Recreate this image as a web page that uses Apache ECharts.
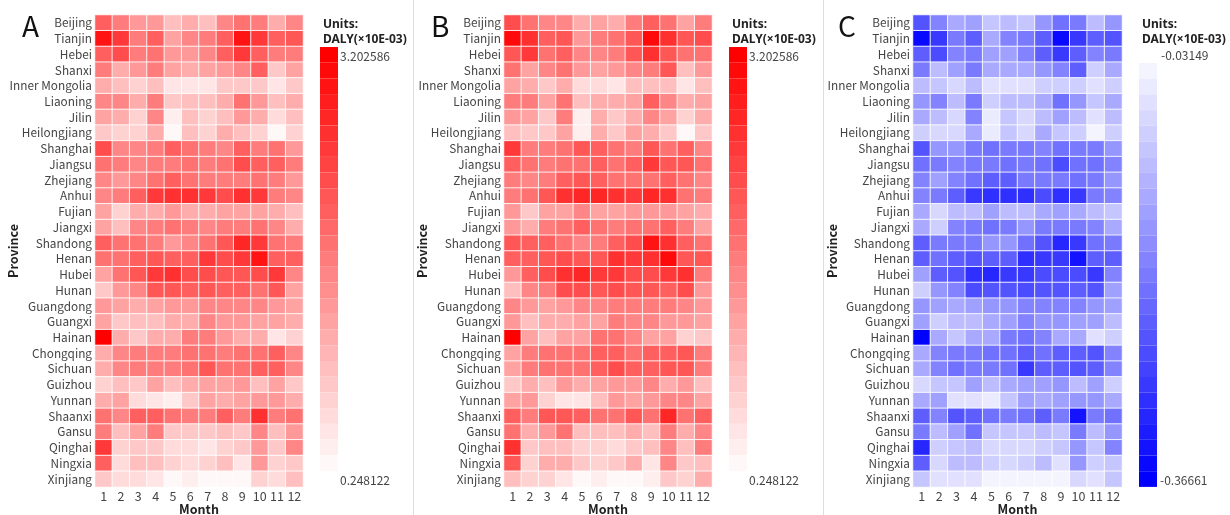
<!DOCTYPE html>
<html><head><meta charset="utf-8">
<script src="https://cdn.jsdelivr.net/npm/echarts@6/dist/echarts.min.js"></script>
<style>html,body{margin:0;padding:0;background:#fff}#c{width:1230px;height:515px}</style>
</head><body><div id="c"></div>
<script>
const provinces = ['Beijing','Tianjin','Hebei','Shanxi','Inner Mongolia','Liaoning','Jilin','Heilongjiang','Shanghai','Jiangsu','Zhejiang','Anhui','Fujian','Jiangxi','Shandong','Henan','Hubei','Hunan','Guangdong','Guangxi','Hainan','Chongqing','Sichuan','Guizhou','Yunnan','Shaanxi','Gansu','Qinghai','Ningxia','Xinjiang'];
const months = ['1','2','3','4','5','6','7','8','9','10','11','12'];

// Panel A values, one row per province (Jan..Dec)
const dalyA = [
[2.02,1.72,1.43,1.43,0.99,1.13,0.99,1.58,1.87,1.72,1.13,1.58],
[2.91,2.46,1.72,2.02,1.28,1.58,1.72,2.02,2.91,2.46,2.02,2.17],
[2.02,2.32,1.72,1.87,1.43,1.43,1.58,2.02,2.46,2.02,1.72,1.72],
[1.72,1.13,1.43,1.72,1.28,1.13,1.28,1.43,1.58,2.02,0.84,1.28],
[1.13,0.99,0.78,0.99,0.54,0.54,0.48,0.84,0.84,0.84,0.48,0.84],
[1.58,1.58,1.13,1.72,0.84,0.99,0.99,1.13,1.87,1.43,0.99,1.13],
[1.28,1.13,0.78,1.58,0.40,0.99,0.69,0.99,1.43,1.13,0.60,0.99],
[0.84,0.69,0.69,1.13,0.34,0.99,0.69,1.13,0.99,0.69,0.31,0.78],
[2.32,1.58,1.58,1.72,2.02,1.87,1.72,1.58,2.02,1.72,1.87,1.43],
[1.87,1.72,1.58,1.72,1.72,1.87,1.72,1.87,2.32,2.02,2.02,1.72],
[1.58,1.43,1.58,1.87,2.02,1.87,1.72,1.72,1.72,1.87,1.72,1.43],
[1.58,1.72,2.02,2.46,2.61,2.61,2.46,2.32,2.61,2.46,1.72,1.58],
[1.28,0.69,1.13,1.13,1.43,1.13,1.13,1.28,1.28,1.28,1.13,0.99],
[1.28,0.99,1.58,1.72,1.87,1.72,1.58,1.72,1.72,1.87,1.58,1.13],
[2.02,1.87,1.87,1.72,1.43,1.58,1.87,2.17,2.76,2.46,1.87,1.72],
[1.87,1.87,2.02,2.17,2.02,2.02,2.46,2.32,2.46,2.91,2.02,2.02],
[1.28,1.87,2.17,2.46,2.61,2.32,2.32,2.17,2.17,2.32,2.46,1.58],
[0.84,1.43,1.58,2.17,2.17,2.02,2.17,2.02,2.02,1.87,2.17,1.28],
[1.43,1.28,1.13,1.28,1.43,1.43,1.58,1.58,1.58,1.58,1.43,1.28],
[1.28,0.84,0.99,0.99,1.13,1.13,1.58,1.43,1.43,1.28,1.28,1.13],
[3.20,1.13,0.84,1.13,1.13,1.72,1.72,1.43,1.13,1.13,0.54,0.78],
[1.13,1.58,1.72,1.72,1.72,1.87,1.87,1.72,1.87,1.87,2.02,1.58],
[1.13,1.58,1.72,1.72,1.72,1.87,2.17,1.87,1.87,2.02,2.02,1.58],
[0.69,0.99,0.84,1.28,0.99,1.13,1.28,1.28,1.43,0.99,1.28,0.84],
[1.13,1.28,0.60,0.48,0.43,0.84,1.28,1.13,1.28,1.43,1.43,1.13],
[1.87,1.58,2.02,2.02,1.87,1.72,1.72,2.02,1.72,2.61,1.72,1.87],
[1.72,0.99,1.28,1.72,0.84,0.84,0.84,0.99,0.84,1.58,0.99,1.43],
[2.46,0.69,0.84,0.84,0.60,0.60,0.54,0.69,0.84,1.43,0.84,1.58],
[2.02,0.60,0.99,0.99,0.69,0.60,0.69,0.99,0.48,1.43,0.69,0.84],
[0.84,0.60,0.60,0.48,0.28,0.40,0.25,0.28,0.34,0.69,0.60,0.99]
];

// Panel B values
const dalyB = [
[2.32,1.87,1.58,1.58,1.13,1.28,1.13,1.72,2.02,1.87,1.28,1.72],
[3.05,2.61,2.02,2.17,1.43,1.72,1.87,2.17,3.05,2.61,2.17,2.32],
[2.17,2.46,1.87,2.02,1.58,1.58,1.72,2.17,2.61,2.17,1.87,1.87],
[1.87,1.28,1.58,1.87,1.43,1.28,1.43,1.58,1.72,2.17,0.99,1.43],
[1.28,1.13,0.84,1.13,0.60,0.60,0.54,0.99,0.99,0.99,0.54,0.99],
[1.72,1.72,1.28,1.87,0.99,1.13,1.13,1.28,2.02,1.58,1.13,1.28],
[1.43,1.28,0.84,1.72,0.46,1.13,0.84,1.13,1.58,1.28,0.69,1.13],
[0.99,0.84,0.84,1.28,0.40,1.13,0.84,1.28,1.13,0.84,0.34,0.84],
[2.46,1.72,1.72,1.87,2.17,2.02,1.87,1.72,2.17,1.87,2.02,1.58],
[2.02,1.87,1.72,1.87,1.87,2.02,1.87,2.02,2.46,2.17,2.17,1.87],
[1.72,1.58,1.72,2.02,2.17,2.02,1.87,1.87,1.87,2.02,1.87,1.58],
[1.72,1.87,2.17,2.61,2.76,2.76,2.61,2.46,2.76,2.61,1.87,1.72],
[1.43,0.84,1.28,1.28,1.58,1.28,1.28,1.43,1.43,1.43,1.28,1.13],
[1.43,1.13,1.72,1.87,2.02,1.87,1.72,1.87,1.87,2.02,1.72,1.28],
[2.17,2.02,2.02,1.87,1.58,1.72,2.02,2.32,2.91,2.61,2.02,1.87],
[2.02,2.02,2.17,2.32,2.17,2.17,2.61,2.46,2.61,3.05,2.17,2.17],
[1.43,2.02,2.32,2.61,2.76,2.46,2.46,2.32,2.32,2.46,2.61,1.72],
[0.99,1.58,1.72,2.32,2.32,2.17,2.32,2.17,2.17,2.02,2.32,1.43],
[1.58,1.43,1.28,1.43,1.58,1.58,1.72,1.72,1.72,1.72,1.58,1.43],
[1.43,0.99,1.13,1.13,1.28,1.28,1.72,1.58,1.58,1.43,1.43,1.28],
[3.20,1.28,0.99,1.28,1.28,1.87,1.87,1.58,1.28,1.28,0.69,0.84],
[1.28,1.72,1.87,1.87,1.87,2.02,2.02,1.87,2.02,2.02,2.17,1.72],
[1.28,1.72,1.87,1.87,1.87,2.02,2.32,2.02,2.02,2.17,2.17,1.72],
[0.84,1.13,0.99,1.43,1.13,1.28,1.43,1.43,1.58,1.13,1.43,0.99],
[1.28,1.43,0.69,0.54,0.48,0.99,1.43,1.28,1.43,1.58,1.58,1.28],
[2.02,1.72,2.17,2.17,2.02,1.87,1.87,2.17,1.87,2.76,1.87,2.02],
[1.87,1.13,1.43,1.87,0.99,0.99,0.99,1.13,0.99,1.72,1.13,1.58],
[2.61,0.84,0.99,0.99,0.69,0.69,0.60,0.84,0.99,1.58,0.99,1.72],
[2.17,0.69,1.13,1.13,0.84,0.69,0.84,1.13,0.54,1.58,0.84,0.99],
[0.99,0.69,0.69,0.54,0.31,0.46,0.28,0.31,0.40,0.84,0.69,1.13]
];

// Panel C values
const dalyC = [
[-0.249,-0.182,-0.132,-0.149,-0.098,-0.115,-0.098,-0.165,-0.216,-0.199,-0.115,-0.165],
[-0.350,-0.283,-0.199,-0.233,-0.132,-0.182,-0.199,-0.233,-0.350,-0.283,-0.233,-0.249],
[-0.233,-0.266,-0.182,-0.199,-0.149,-0.149,-0.182,-0.233,-0.283,-0.233,-0.182,-0.199],
[-0.199,-0.115,-0.149,-0.199,-0.132,-0.132,-0.132,-0.165,-0.182,-0.233,-0.092,-0.132],
[-0.115,-0.098,-0.072,-0.115,-0.065,-0.058,-0.058,-0.082,-0.092,-0.082,-0.058,-0.082],
[-0.165,-0.182,-0.115,-0.199,-0.092,-0.115,-0.115,-0.132,-0.216,-0.165,-0.098,-0.132],
[-0.132,-0.115,-0.072,-0.182,-0.048,-0.098,-0.072,-0.115,-0.149,-0.115,-0.065,-0.115],
[-0.092,-0.072,-0.072,-0.132,-0.048,-0.098,-0.072,-0.132,-0.098,-0.082,-0.038,-0.082],
[-0.249,-0.165,-0.165,-0.199,-0.216,-0.199,-0.199,-0.182,-0.216,-0.199,-0.199,-0.165],
[-0.216,-0.199,-0.182,-0.199,-0.199,-0.216,-0.199,-0.216,-0.266,-0.216,-0.216,-0.182],
[-0.182,-0.149,-0.182,-0.216,-0.233,-0.233,-0.199,-0.199,-0.199,-0.216,-0.199,-0.165],
[-0.182,-0.199,-0.233,-0.283,-0.300,-0.300,-0.300,-0.266,-0.300,-0.283,-0.199,-0.182],
[-0.132,-0.072,-0.115,-0.115,-0.149,-0.115,-0.115,-0.132,-0.149,-0.132,-0.115,-0.098],
[-0.132,-0.092,-0.182,-0.199,-0.216,-0.199,-0.165,-0.199,-0.199,-0.199,-0.182,-0.132],
[-0.233,-0.199,-0.199,-0.199,-0.165,-0.165,-0.216,-0.249,-0.316,-0.283,-0.216,-0.199],
[-0.233,-0.216,-0.233,-0.249,-0.233,-0.233,-0.300,-0.283,-0.283,-0.333,-0.233,-0.233],
[-0.149,-0.233,-0.249,-0.300,-0.316,-0.283,-0.283,-0.266,-0.266,-0.266,-0.283,-0.182],
[-0.092,-0.165,-0.182,-0.266,-0.249,-0.249,-0.266,-0.249,-0.249,-0.233,-0.249,-0.149],
[-0.165,-0.149,-0.132,-0.149,-0.165,-0.165,-0.182,-0.182,-0.182,-0.182,-0.165,-0.149],
[-0.149,-0.092,-0.115,-0.115,-0.132,-0.149,-0.182,-0.165,-0.165,-0.149,-0.149,-0.115],
[-0.366,-0.132,-0.098,-0.132,-0.132,-0.199,-0.216,-0.182,-0.132,-0.132,-0.065,-0.092],
[-0.132,-0.182,-0.199,-0.199,-0.216,-0.216,-0.233,-0.216,-0.233,-0.233,-0.249,-0.182],
[-0.132,-0.182,-0.216,-0.199,-0.199,-0.216,-0.283,-0.233,-0.233,-0.249,-0.233,-0.182],
[-0.072,-0.098,-0.098,-0.149,-0.115,-0.132,-0.149,-0.149,-0.165,-0.115,-0.149,-0.092],
[-0.132,-0.149,-0.065,-0.058,-0.055,-0.098,-0.149,-0.132,-0.149,-0.165,-0.165,-0.132],
[-0.233,-0.182,-0.249,-0.233,-0.216,-0.199,-0.216,-0.233,-0.199,-0.333,-0.199,-0.216],
[-0.199,-0.115,-0.149,-0.216,-0.098,-0.098,-0.098,-0.115,-0.098,-0.199,-0.115,-0.165],
[-0.316,-0.082,-0.098,-0.115,-0.072,-0.072,-0.072,-0.092,-0.098,-0.165,-0.098,-0.182],
[-0.233,-0.072,-0.115,-0.115,-0.082,-0.072,-0.082,-0.115,-0.065,-0.165,-0.082,-0.098],
[-0.098,-0.065,-0.065,-0.058,-0.032,-0.041,-0.032,-0.032,-0.035,-0.072,-0.058,-0.098]
];

const rangeAB = [0.248122, 3.202586];
const rangeC = [-0.36661, -0.03149];
const legendTextsAB = ['3.202586', '0.248122'];
const legendTextsC = ['-0.03149', '-0.36661'];

const FONT = "'Noto Sans CJK SC', 'Noto Sans', sans-serif";
const TITLE_FONT = "'Noto Sans', 'Noto Sans CJK SC', sans-serif";

function toCells(m) {
  const out = [];
  m.forEach((row, i) => row.forEach((v, j) => out.push([j, i, v])));
  return out;
}

const panels = [
  { letter: 'A', left: 95, width: 208, data: dalyA, range: rangeAB, colors: ['#fff8f8', '#ff0000'], barX: 320, barY: 47, titleX: 323, texts: legendTextsAB },
  { letter: 'B', left: 504, width: 208, data: dalyB, range: rangeAB, colors: ['#fff8f8', '#ff0000'], barX: 729, barY: 47, titleX: 732, texts: legendTextsAB },
  { letter: 'C', left: 913, width: 209, data: dalyC, range: rangeC, colors: ['#0000ff', '#f4f4ff'], barX: 1139, barY: 63, titleX: 1142, texts: legendTextsC }
];

const grid = [], xAxis = [], yAxis = [], series = [], visualMap = [], graphic = [];
const letterX = [22, 431, 838];

panels.forEach((p, i) => {
  grid.push({ left: p.left, width: p.width, top: 15, height: 472, containLabel: false, outerBoundsMode: 'none' });
  xAxis.push({
    type: 'category', gridIndex: i, data: months, position: 'bottom',
    name: 'Month', nameLocation: 'middle', nameGap: 16, nameMoveOverlap: false,
    nameTextStyle: { fontFamily: FONT, fontWeight: 'bold', fontSize: 12.5, color: '#222' },
    axisLine: { show: false }, axisTick: { show: false }, splitLine: { show: false },
    axisLabel: { interval: 0, fontFamily: FONT, fontSize: 12.5, color: '#444', margin: 3 }
  });
  yAxis.push({
    type: 'category', gridIndex: i, data: provinces, inverse: true,
    name: 'Province', nameLocation: 'middle', nameGap: 75, nameRotate: 90, nameMoveOverlap: false,
    nameTextStyle: { fontFamily: FONT, fontWeight: 'bold', fontSize: 12.5, color: '#222' },
    axisLine: { show: false }, axisTick: { show: false }, splitLine: { show: false },
    axisLabel: { interval: 0, fontFamily: FONT, fontSize: 11.8, color: '#444', margin: 3 }
  });
  series.push({
    type: 'heatmap', xAxisIndex: i, yAxisIndex: i, data: toCells(p.data),
    itemStyle: { borderColor: 'rgba(255,255,255,0.85)', borderWidth: 1 },
    emphasis: { disabled: true }, animation: false
  });
  visualMap.push({
    type: 'piecewise', seriesIndex: i, min: p.range[0], max: p.range[1], splitNumber: 27,
    orient: 'vertical', left: p.barX, top: p.barY, itemWidth: 18, itemHeight: 15.7, itemGap: 0,
    itemSymbol: 'rect', showLabel: false, padding: 0, hoverLink: false, selectedMode: false,
    inRange: { color: p.colors }
  });
  graphic.push(
    { type: 'text', left: letterX[i], top: 12, style: { text: p.letter, font: '28px ' + FONT, fill: '#111' } },
    { type: 'text', x: p.titleX, y: 25, style: { text: 'Units:', font: 'bold 12px ' + TITLE_FONT, fill: '#222', textVerticalAlign: 'middle' } },
    { type: 'text', x: p.titleX, y: 40, style: { text: 'DALY(×10E-03)', font: 'bold 12px ' + TITLE_FONT, fill: '#222', textVerticalAlign: 'middle' } }
  );
  if (i < 2) {
    graphic.push(
      { type: 'text', x: p.barX + 20, y: 56, style: { text: p.texts[0], font: '12px ' + FONT, fill: '#444', textVerticalAlign: 'middle' } },
      { type: 'text', x: p.barX + 20, y: 480, style: { text: p.texts[1], font: '12px ' + FONT, fill: '#444', textVerticalAlign: 'middle' } }
    );
  } else {
    graphic.push(
      { type: 'text', x: 1161, y: 55, style: { text: p.texts[0], font: '12px ' + FONT, fill: '#444', textVerticalAlign: 'middle' } },
      { type: 'text', x: p.barX + 21, y: 480, style: { text: p.texts[1], font: '12px ' + FONT, fill: '#444', textVerticalAlign: 'middle' } }
    );
  }
});

graphic.push(
  { type: 'line', shape: { x1: 413.5, y1: 0, x2: 413.5, y2: 515 }, style: { stroke: '#dcdcdc', lineWidth: 1 } },
  { type: 'line', shape: { x1: 823.5, y1: 0, x2: 823.5, y2: 515 }, style: { stroke: '#dcdcdc', lineWidth: 1 } }
);

const chart = echarts.init(document.getElementById('c'), null, { renderer: 'canvas' });
chart.setOption({
  backgroundColor: '#fff', animation: false,
  grid, xAxis, yAxis, series, visualMap, graphic
});
</script>
</body></html>
